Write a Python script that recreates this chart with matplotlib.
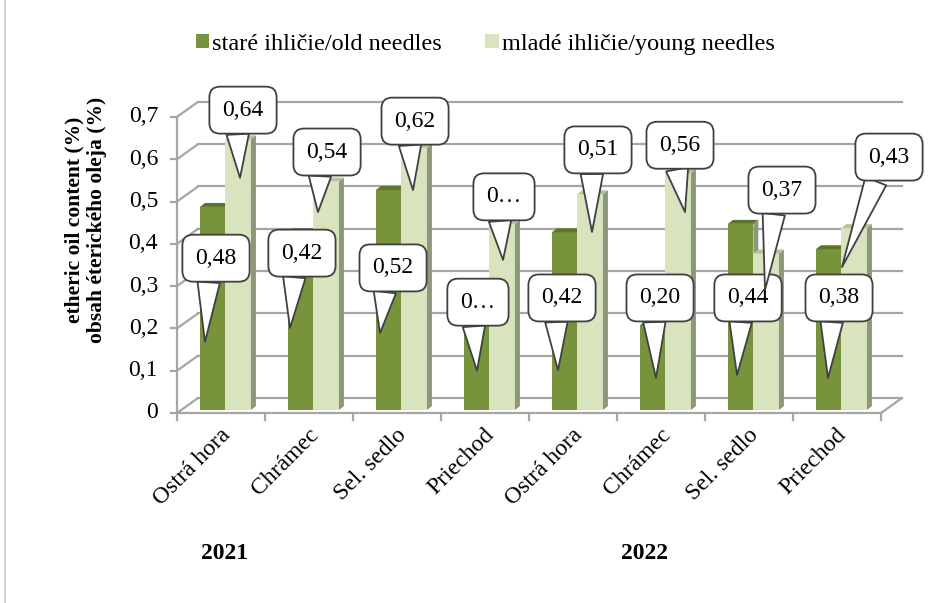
import matplotlib.pyplot as plt
from matplotlib.patches import Polygon, Rectangle, Patch
import numpy as np

plt.rcParams["font.family"] = ["Liberation Serif", "DejaVu Serif"]

# data
sites = ["Ostrá hora", "Chrámec", "Sel. sedlo", "Priechod",
         "Ostrá hora", "Chrámec", "Sel. sedlo", "Priechod"]
years = ["2021", "2022"]
old = [0.48, 0.42, 0.52, 0.20, 0.42, 0.20, 0.44, 0.38]
young = [0.64, 0.54, 0.62, 0.44, 0.51, 0.56, 0.37, 0.43]
old_txt = ["0,48", "0,42", "0,52", "0…", "0,42", "0,20", "0,44", "0,38"]
young_txt = ["0,64", "0,54", "0,62", "0…", "0,51", "0,56", "0,37", "0,43"]
yticks = np.arange(0, 0.71, 0.1)
ytick_txt = ["0", "0,1", "0,2", "0,3", "0,4", "0,5", "0,6", "0,7"]

# callout placement (box x offset from category, box y, tip x offset, tip y)
old_call = [(0.443, 0.366, 0.318, 0.168), (0.420, 0.378, 0.284, 0.201),
            (0.455, 0.343, 0.307, 0.189), (0.420, 0.262, 0.409, 0.100),
            (0.375, 0.272, 0.330, 0.101), (0.489, 0.272, 0.443, 0.083),
            (0.489, 0.272, 0.364, 0.090), (0.523, 0.272, 0.398, 0.083)]
young_call = [(0.750, 0.716, 0.716, 0.556), (0.705, 0.617, 0.602, 0.475),
              (0.705, 0.690, 0.682, 0.527), (0.716, 0.511, 0.705, 0.362),
              (0.784, 0.622, 0.716, 0.428), (0.716, 0.633, 0.773, 0.475),
              (0.875, 0.527, 0.682, 0.291), (1.091, 0.605, 0.557, 0.345)]

c_old, c_old_top = "#77933c", "#5b7629"
c_young, c_young_top, c_young_side = "#d7e4bd", "#b4c29b", "#8d977c"
grid_c = "#a6a6a6"

W, H = 942, 603
fig = plt.figure(figsize=(W / 100, H / 100), dpi=100)
ax = fig.add_axes([0, 0, 1, 1])
px_x, px_y = 88.0, 423.0  # pixels per category / per unit value
ax.set_xlim(-177 / px_x, (W - 177) / px_x)
ax.set_ylim(-(H - 413) / px_y, 413 / px_y)
ax.axis("off")

n = len(sites)
dx, dy = 21 / px_x, 15 / px_y  # floor depth

# back wall gridlines + left wall
for v in yticks:
    ax.plot([dx, n + dx], [v + dy, v + dy], color=grid_c, lw=1.6, zorder=1)
    ax.plot([0, dx], [v, v + dy], color=grid_c, lw=1.6, zorder=1)
    ax.plot([-6 / px_x, 0], [v, v], color=grid_c, lw=1.6, zorder=1)
ax.plot([0, 0], [0, yticks[-1]], color=grid_c, lw=1.6, zorder=1)
# floor
ax.plot([0, n, n + dx], [0, 0, dy], color=grid_c, lw=1.6, zorder=1)
for i in range(n + 1):
    ax.plot([i, i], [0, -7 / px_y], color=grid_c, lw=1.6, zorder=1)

for v, t in zip(yticks, ytick_txt):
    ax.text(-19 / px_x, v, t, ha="right", va="center", fontsize=17)

# bars
b0 = 3 / px_y
ddx, ddy = 5 / px_x, 4 / px_y
w = 0.29
for i in range(n):
    for k, (vals, face, top) in enumerate([(old, c_old, c_old_top),
                                           (young, c_young, c_young_top)]):
        x0 = i + 0.26 + k * w
        x1 = x0 + w
        t = b0 + vals[i]
        ax.add_patch(Polygon([(x1, b0), (x1, t), (x1 + ddx, t + ddy), (x1 + ddx, b0 + ddy)],
                             closed=True, fc=c_young_side, ec="none", zorder=2))
        ax.add_patch(Rectangle((x0, b0), w, vals[i], fc=face, ec="none", zorder=3))
        ax.add_patch(Polygon([(x0, t), (x1, t), (x1 + ddx, t + ddy), (x0 + ddx, t + ddy)],
                             closed=True, fc=top, ec="none", zorder=3))

# callouts
def callout(txt, pos, i):
    bx, by, tx, ty = pos
    ax.annotate(txt, xy=(i + tx, ty), xytext=(i + bx, by),
                ha="center", va="center", fontsize=17, zorder=6,
                bbox=dict(boxstyle="round,pad=0.55,rounding_size=0.45",
                          fc="white", ec="#404040", lw=1.3),
                arrowprops=dict(arrowstyle="wedge,tail_width=0.95,shrink_factor=0.5",
                                fc="white", ec="#404040", lw=1.3,
                                shrinkA=0, shrinkB=0, relpos=(0.35, 0.2)))

for i in range(n):
    callout(old_txt[i], old_call[i], i)
    callout(young_txt[i], young_call[i], i)

# category labels
for i, s in enumerate(sites):
    ax.text(i + 0.57, -0.045, s, rotation=45, rotation_mode="anchor",
            ha="right", va="center", fontsize=17)
ax.text(0.545, -0.331, years[0], ha="center", va="center", fontsize=17, fontweight="bold")
ax.text(5.307, -0.331, years[1], ha="center", va="center", fontsize=17, fontweight="bold")

ax.text(-1.034, 0.456, "etheric oil content (%)\nobsah éterického oleja (%)",
        rotation=90, ha="center", va="center", multialignment="center",
        fontsize=15.5, fontweight="bold", linespacing=1.15)

handles = [Patch(fc=c_old, ec="none", label="staré ihličie/old needles"),
           Patch(fc=c_young, ec="none", label="mladé ihličie/young needles")]
ax.legend(handles=handles, loc="center", bbox_to_anchor=(0.515, 0.927), ncol=2,
          frameon=False, fontsize=17.5, handlelength=0.55, handleheight=0.55,
          handletextpad=0.12, columnspacing=1.8)

fig.add_artist(plt.Line2D([5 / W, 5 / W], [0, 1], color="#c8c8c8", lw=1.2))

fig.savefig("out.png", dpi=100)
